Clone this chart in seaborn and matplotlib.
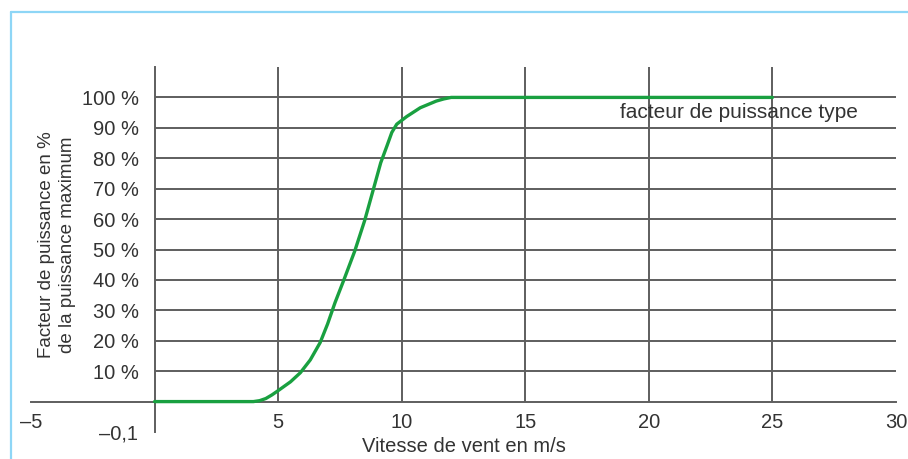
import matplotlib
matplotlib.use("Agg")
import matplotlib.pyplot as plt
import seaborn as sns
from matplotlib.lines import Line2D

# power curve (wind speed in m/s, fraction of max power)
wind_speed = [0, 1, 2, 3, 4.0, 4.25, 4.5, 4.75, 5.0, 5.5, 5.9, 6.3, 6.7, 7.0,
              7.3, 7.65, 8.1, 8.5, 8.85, 9.15, 9.4, 9.6, 9.8, 10.2, 10.75,
              11.4, 11.7, 12.0, 15, 20, 25]
power_factor = [0, 0, 0, 0, 0, 0.003, 0.01, 0.022, 0.036, 0.065, 0.095, 0.137,
                0.194, 0.255, 0.325, 0.398, 0.495, 0.595, 0.697, 0.785, 0.84,
                0.885, 0.912, 0.937, 0.966, 0.988, 0.995, 1.0, 1.0, 1.0, 1.0]

x_grid = [5, 10, 15, 20, 25]
x_grid_labels = ["5", "10", "15", "20", "25"]
x_caps = [-5, 30]
x_cap_labels = ["\u20135", "30"]
y_grid = [0.1, 0.2, 0.3, 0.4, 0.5, 0.6, 0.7, 0.8, 0.9, 1.0]
y_grid_labels = ["10 %", "20 %", "30 %", "40 %", "50 %", "60 %", "70 %", "80 %", "90 %", "100 %"]
y_caps = [-0.1, 1.1]
y_cap_labels = ["\u20130,1", ""]

curve_label = "facteur de puissance type"
x_label = "Vitesse de vent en m/s"
y_label = "Facteur de puissance en %\nde la puissance maximum"

sns.set_style("white")
plt.rcParams["font.family"] = ["Liberation Sans", "DejaVu Sans"]

grid_col = "#5e5e5e"
text_col = "#333333"
fs = 14.5

fig = plt.figure(figsize=(9.08, 4.59), dpi=100)
ax = fig.add_axes([31 / 908, 27 / 459, 865 / 908, 365 / 459])
ax.set_xlim(-5, 30)
ax.set_ylim(-0.1, 1.1)

# grid drawn only over the positive quadrant
ax.hlines(y_grid, 0, 30, color=grid_col, lw=1.4, zorder=1)
ax.vlines(x_grid, 0, 1.1, color=grid_col, lw=1.4, zorder=1)

sns.lineplot(x=wind_speed, y=power_factor, ax=ax, color="#19a040", lw=2.4,
             zorder=5, clip_on=False)

for s in ["top", "right"]:
    ax.spines[s].set_visible(False)
for s in ["left", "bottom"]:
    ax.spines[s].set_position(("data", 0))
    ax.spines[s].set_color(grid_col)
    ax.spines[s].set_linewidth(1.4)

ax.set_xticks(x_grid, labels=x_grid_labels)
ax.set_xticks(x_caps, labels=x_cap_labels, minor=True)
ax.set_yticks(y_grid, labels=y_grid_labels)
ax.set_yticks(y_caps, labels=y_cap_labels, minor=True)

ax.tick_params(axis="both", which="major", direction="out", length=6,
               width=1.4, color=grid_col, labelsize=fs, labelcolor=text_col)
ax.tick_params(axis="x", which="major", pad=2)
ax.tick_params(axis="y", which="major", pad=5)
ax.tick_params(axis="both", which="minor", direction="inout", length=8,
               width=1.4, color=grid_col, labelsize=fs, labelcolor=text_col)
ax.tick_params(axis="x", which="minor", pad=4)
ax.tick_params(axis="y", which="minor", pad=8)

ax.text(18.85, 0.95, curve_label, ha="left", va="center", fontsize=15,
        color=text_col)

ax.set_xlabel(x_label, fontsize=fs, color=text_col)
ax.xaxis.set_label_coords(0.5, -0.015)
fig.text(57 / 908, 1 - 245 / 459, y_label, rotation=90, ha="center",
         va="center", multialignment="center", fontsize=13.5, color=text_col,
         linespacing=1.25)

# light blue frame around the figure (top and left edges only visible)
fig.add_artist(Line2D([11 / 908, 1.0], [1 - 12 / 459, 1 - 12 / 459],
                      transform=fig.transFigure, color="#8ed6f6", lw=1.6))
fig.add_artist(Line2D([11 / 908, 11 / 908], [1 - 12 / 459, 0.0],
                      transform=fig.transFigure, color="#8ed6f6", lw=1.6))

fig.savefig("out.png", dpi=100)
